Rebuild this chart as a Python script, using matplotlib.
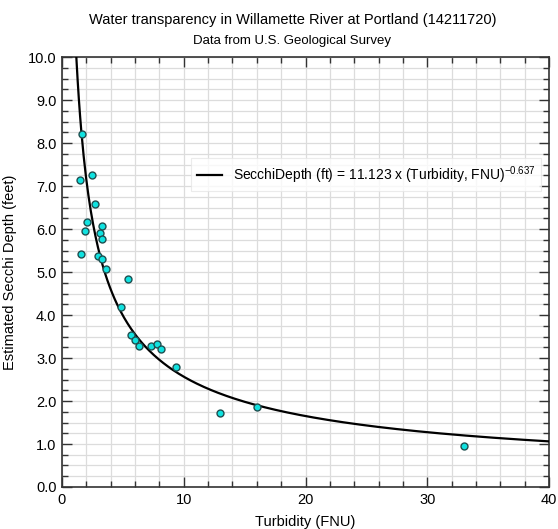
#!/usr/bin/env python3
"""
Secchi depth vs turbidity, Willamette River at Portland
"""

import numpy as np
import matplotlib
matplotlib.use('Agg')
import matplotlib.pyplot as plt
from matplotlib.ticker import MultipleLocator, FormatStrFormatter

# Measured points (Turbidity FNU, Secchi depth ft)
turbidity = [1.62, 1.45, 2.49, 2.74, 2.05, 1.89, 3.26, 3.12, 3.29, 1.53,
             2.96, 3.29, 3.59, 5.45, 4.85, 5.64, 6.00, 6.35, 7.31, 7.78,
             8.16, 9.34, 12.98, 16.0, 33.03]
secchi = [8.22, 7.14, 7.26, 6.58, 6.17, 5.95, 6.07, 5.91, 5.76, 5.43,
          5.38, 5.31, 5.08, 4.83, 4.19, 3.53, 3.42, 3.27, 3.27, 3.32,
          3.22, 2.78, 1.71, 1.85, 0.96]

# Power-law fit coefficients shown in the legend
fit_coef = 11.123
fit_exp = -0.637


def main():
    plt.rcParams.update({
        'font.family': 'Liberation Sans',
        'font.size': 10,
    })

    fig = plt.figure(figsize=(5.58, 5.29), dpi=100)
    ax = fig.add_axes([0.111, 0.0794, 0.873, 0.8128])

    xfit = np.linspace(1.0, 40, 400)
    yfit = fit_coef * xfit ** fit_exp
    ax.plot(xfit, yfit, color='black', linewidth=1.6,
            label='SecchiDepth (ft) = 11.123 x (Turbidity, FNU)$^{\\mathregular{-0.637}}$',
            zorder=3)
    ax.plot(turbidity, secchi, linestyle='none', marker='o', markersize=5.0,
            markerfacecolor='#10e2e0', markeredgecolor='#1f4f50',
            markeredgewidth=1.0, zorder=4)

    ax.set_xlim(0, 40)
    ax.set_ylim(0, 10)
    ax.xaxis.set_major_locator(MultipleLocator(10))
    ax.xaxis.set_minor_locator(MultipleLocator(2))
    ax.yaxis.set_major_locator(MultipleLocator(1))
    ax.yaxis.set_minor_locator(MultipleLocator(0.25))
    ax.yaxis.set_major_formatter(FormatStrFormatter('%.1f'))

    ax.grid(True, which='both', color='#dcdcdc', linewidth=0.9, zorder=0)
    ax.set_axisbelow(True)
    ax.tick_params(which='both', direction='in', top=True, right=True,
                   colors='#333333', labelcolor='black', labelsize=10.5)
    ax.tick_params(which='major', length=7, width=1.0, pad=4)
    ax.tick_params(which='minor', length=4, width=1.0)
    for s in ax.spines.values():
        s.set_color('#333333')
        s.set_linewidth(1.2)

    ax.set_xlabel('Turbidity (FNU)', fontsize=10.5, labelpad=6)
    ax.set_ylabel('Estimated Secchi Depth (feet)', fontsize=10.5, labelpad=8)

    leg = ax.legend(loc='upper left', bbox_to_anchor=(0.265, 0.764),
                    fontsize=10, frameon=True, fancybox=False,
                    handlelength=1.8, borderpad=0.4, borderaxespad=0.0)
    leg.get_frame().set_edgecolor('#e6e6e6')
    leg.get_frame().set_linewidth(0.8)

    fig.text(0.524, 0.962, 'Water transparency in Willamette River at Portland (14211720)',
             ha='center', va='center', fontsize=10.5)
    fig.text(0.524, 0.923, 'Data from U.S. Geological Survey',
             ha='center', va='center', fontsize=9.5)

    fig.savefig('out.png', dpi=100)


if __name__ == "__main__":
    main()
